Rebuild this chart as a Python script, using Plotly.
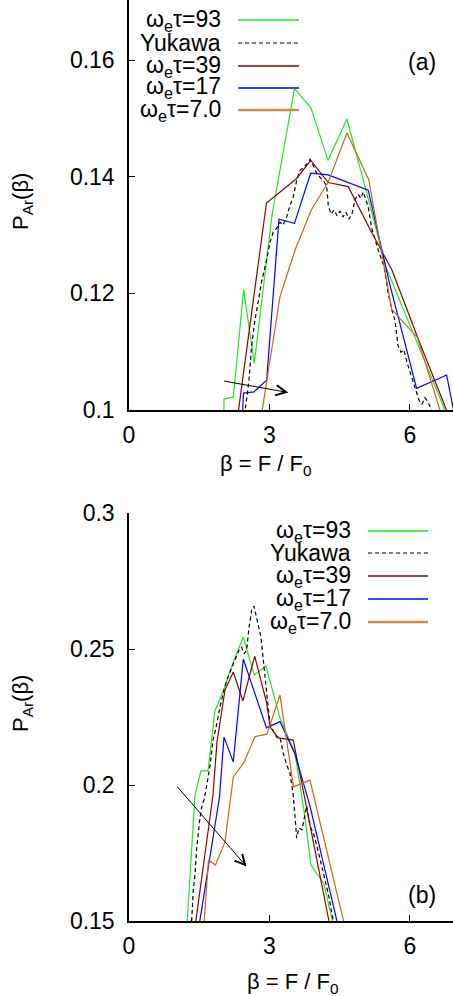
import plotly.graph_objects as go

W, H = 453, 996
FONT = "Liberation Sans, Arial, Helvetica, sans-serif"
FS = 23

# ---------------- panel (a) ----------------
x93a = [2.00, 2.029, 2.227, 2.449, 2.676, 3.054, 3.534, 3.886, 4.249, 4.655, 5.071, 5.488, 6.748, 7.1]
y93a = [0.080, 0.1019, 0.1022, 0.1206, 0.1080, 0.1334, 0.1551, 0.1518, 0.1428, 0.1499, 0.1374, 0.1245, 0.1000, 0.0932]

xYa = [2.456, 2.498, 2.562, 2.620, 2.690, 2.761, 2.840, 2.940, 3.011, 3.081, 3.154, 3.224, 3.288, 3.368,
       3.438, 3.508, 3.581, 3.652, 3.716, 3.795, 3.865, 3.929, 4.008, 4.079, 4.143, 4.222, 4.256, 4.313,
       4.378, 4.442, 4.506, 4.570, 4.634, 4.698, 4.762, 4.826, 4.890, 4.954, 5.003, 5.061, 5.110, 5.183,
       5.253, 5.324, 5.381, 5.445, 5.531, 5.616, 5.680, 5.744, 5.808, 5.872, 5.936, 6.000, 6.064, 6.129,
       6.193, 6.257, 6.321, 6.385, 6.449, 6.513]
yYa = [0.0991, 0.1009, 0.1051, 0.1111, 0.1154, 0.1189, 0.1223, 0.1257, 0.1288, 0.1305, 0.1312, 0.1322,
       0.1317, 0.1331, 0.1351, 0.1365, 0.1394, 0.1411, 0.1415, 0.1422, 0.1430, 0.1420, 0.1406, 0.1399,
       0.1394, 0.1384, 0.1351, 0.1336, 0.1343, 0.1333, 0.1341, 0.1331, 0.1339, 0.1327, 0.1336, 0.1360,
       0.1370, 0.1363, 0.1374, 0.1360, 0.1348, 0.1312, 0.1291, 0.1274, 0.1261, 0.1247, 0.1202, 0.1171,
       0.1154, 0.1111, 0.1099, 0.1103, 0.1082, 0.1065, 0.1051, 0.1034, 0.1017, 0.1010, 0.1021, 0.1014,
       0.1002, 0.0991]

x39a = [2.25, 2.936, 3.581, 3.880, 4.256, 4.683, 5.146, 5.616, 6.171, 6.784, 7.1]
y39a = [0.0947, 0.1355, 0.1397, 0.1428, 0.1390, 0.1383, 0.1310, 0.1240, 0.1123, 0.1000, 0.0936]

x17a = [2.40, 2.445, 2.669, 2.940, 3.203, 3.534, 3.880, 4.254, 5.110, 5.552, 6.143, 6.784, 7.0]
y17a = [0.095, 0.1029, 0.1031, 0.1051, 0.1327, 0.1320, 0.1406, 0.1403, 0.1377, 0.1221, 0.1037, 0.1060, 0.0972]

x7a = [2.75, 3.224, 3.545, 3.893, 4.256, 4.655, 5.121, 5.610, 6.161, 6.641, 7.0]
y7a = [0.0951, 0.1194, 0.1274, 0.1343, 0.1391, 0.1475, 0.1395, 0.1173, 0.1124, 0.1000, 0.0907]

# ---------------- panel (b) ----------------
x93b = [1.2385, 1.409, 1.537, 1.687, 1.836, 2.028, 2.210, 2.441, 2.676, 2.925, 3.224, 3.545, 3.758, 3.886,
        4.164, 4.356, 4.463]
y93b = [0.1485, 0.1963, 0.2052, 0.2052, 0.2272, 0.2353, 0.2445, 0.2544, 0.2404, 0.2438, 0.2246, 0.2118,
        0.1882, 0.1706, 0.1636, 0.1500, 0.1412]

xYb = [1.303, 1.339, 1.373, 1.409, 1.446, 1.480, 1.516, 1.559, 1.602, 1.644, 1.693, 1.730, 1.794, 1.858,
       1.943, 2.029, 2.114, 2.178, 2.227, 2.300, 2.349, 2.407, 2.456, 2.513, 2.562, 2.620, 2.669, 2.712,
       2.761, 2.819, 2.868, 2.925, 2.968, 3.011, 3.081, 3.154, 3.224, 3.288, 3.368, 3.438, 3.508, 3.581,
       3.630, 3.694, 3.795, 3.865, 3.936, 4.008, 4.079, 4.143, 4.222, 4.271, 4.328, 4.378]
yYb = [0.1449, 0.1504, 0.1614, 0.1669, 0.1768, 0.1835, 0.1879, 0.1926, 0.1945, 0.1982, 0.2029, 0.2070,
       0.2165, 0.2210, 0.2287, 0.2349, 0.2397, 0.2423, 0.2445, 0.2471, 0.2496, 0.2507, 0.2482, 0.2496,
       0.2577, 0.2643, 0.2658, 0.2625, 0.2585, 0.2544, 0.2460, 0.2349, 0.2294, 0.2228, 0.2199, 0.2176,
       0.2176, 0.2121, 0.2074, 0.2044, 0.1963, 0.1805, 0.1842, 0.1835, 0.1923, 0.1849, 0.1824, 0.1779,
       0.1724, 0.1680, 0.1625, 0.1588, 0.1540, 0.1485]

x39b = [1.367, 1.431, 1.794, 1.879, 2.050, 2.227, 2.434, 2.684, 2.940, 3.011, 3.188, 3.508, 4.271, 4.37]
y39b = [0.1430, 0.1504, 0.1963, 0.2158, 0.2349, 0.2415, 0.2309, 0.2474, 0.2302, 0.2214, 0.2173, 0.2165,
        0.1500, 0.1412]

x17b = [1.452, 1.516, 1.933, 2.029, 2.227, 2.441, 2.936, 3.224, 3.545, 3.865, 4.435, 4.506]
y17b = [0.1430, 0.1504, 0.1956, 0.2176, 0.2085, 0.2463, 0.2210, 0.2233, 0.2114, 0.1923, 0.1504, 0.1449]

x7b = [1.559, 1.608, 1.698, 1.847, 2.050, 2.227, 2.456, 2.690, 2.947, 3.224, 3.513, 3.865, 4.576, 4.677]
y7b = [0.1412, 0.1504, 0.1724, 0.1706, 0.1790, 0.2029, 0.2083, 0.2178, 0.2187, 0.2331, 0.1993, 0.2018,
       0.1504, 0.1430]

# arrows (tail, head) in data units
arrow_a = [(2.0, 0.105), (3.40, 0.103)]
arrow_b = [(1.0, 0.200), (2.51, 0.170)]

labels = ["ω<sub>e</sub>τ=93", "Yukawa", "ω<sub>e</sub>τ=39", "ω<sub>e</sub>τ=17", "ω<sub>e</sub>τ=7.0"]
colors = ["#1ee61e", "black", "#8b0000", "#0000ff", "#cc6611"]
dashes = ["solid", "4px,3px", "solid", "solid", "solid"]

x_ticks = [0, 3, 6]
x_ticktext = ["0", "3", "6"]
ya_ticks = [0.10, 0.12, 0.14, 0.16]
ya_ticktext = ["0.1", "0.12", "0.14", "0.16"]
yb_ticks = [0.15, 0.20, 0.25, 0.30]
yb_ticktext = ["0.15", "0.2", "0.25", "0.3"]

panel_a = [(x93a, y93a), (xYa, yYa), (x39a, y39a), (x17a, y17a), (x7a, y7a)]
panel_b = [(x93b, y93b), (xYb, yYb), (x39b, y39b), (x17b, y17b), (x7b, y7b)]


def px(v):
    return v / W


def py(v):
    return 1 - v / H


fig = go.Figure()
for (xs, ys), c, d in zip(panel_a, colors, dashes):
    fig.add_trace(go.Scatter(x=xs, y=ys, mode="lines", xaxis="x", yaxis="y",
                             line=dict(color=c, width=1.2, dash=d), showlegend=False, hoverinfo="skip"))
for (xs, ys), c, d in zip(panel_b, colors, dashes):
    fig.add_trace(go.Scatter(x=xs, y=ys, mode="lines", xaxis="x2", yaxis="y2",
                             line=dict(color=c, width=1.2, dash=d), showlegend=False, hoverinfo="skip"))

xdom = [px(129), 1.0]
ya_dom = [py(410), 1.0]
yb_dom = [py(921), py(513)]
XR = [0, 6.92]
YA = [0.10, 0.1703]
YB = [0.15, 0.30]
NOLINE = "rgba(0,0,0,0)"

base = dict(showgrid=False, zeroline=False, ticks="inside", ticklen=6, tickwidth=1, tickcolor="black",
            linecolor="black", linewidth=1.5, automargin=False,
            tickfont=dict(family=FONT, size=FS, color="black"))

fig.update_layout(
    template="none",
    width=W, height=H, margin=dict(l=0, r=0, t=0, b=0, autoexpand=False),
    paper_bgcolor="white", plot_bgcolor="white", showlegend=False,
    font=dict(family=FONT, size=FS, color="black"),
    xaxis=dict(base, domain=xdom, anchor="y", range=XR, tickvals=x_ticks, ticktext=x_ticktext,
               showline=True, ticklabelstandoff=4),
    yaxis=dict(base, domain=ya_dom, anchor="x", range=YA, tickvals=ya_ticks, ticktext=ya_ticktext,
               showline=True, ticklabelstandoff=8),
    xaxis2=dict(base, domain=xdom, anchor="y2", range=XR, tickvals=x_ticks, ticktext=x_ticktext,
                showline=True, ticklabelstandoff=4),
    yaxis2=dict(base, domain=yb_dom, anchor="x2", range=YB, tickvals=yb_ticks, ticktext=yb_ticktext,
                showline=True, ticklabelstandoff=8),
    xaxis3=dict(base, overlaying="x", anchor="y", side="top", range=XR, tickvals=x_ticks,
                showticklabels=False, showline=False, linecolor=NOLINE),
    yaxis3=dict(base, overlaying="y", anchor="x", side="right", range=YA, tickvals=ya_ticks,
                showticklabels=False, showline=False, linecolor=NOLINE),
    xaxis4=dict(base, overlaying="x2", anchor="y2", side="top", range=XR, tickvals=x_ticks,
                showticklabels=False, showline=True),
    yaxis4=dict(base, overlaying="y2", anchor="x2", side="right", range=YB, tickvals=yb_ticks,
                showticklabels=False, showline=False, linecolor=NOLINE),
)

ann = []
shapes = []
# axis titles
for yc in (202, 704):
    ann.append(dict(text="P<sub>Ar</sub>(β)", x=px(22), y=py(yc), xref="paper", yref="paper",
                    textangle=-90, showarrow=False, xanchor="center", yanchor="middle",
                    font=dict(family=FONT, size=22)))
for xc, yc in ((266, 465), (293, 983)):
    ann.append(dict(text="β = F / F<sub>0</sub>", x=px(xc), y=py(yc), xref="paper", yref="paper",
                    showarrow=False, xanchor="center", yanchor="middle", font=dict(family=FONT, size=22)))
ann.append(dict(text="(a)", x=px(422), y=py(62), xref="paper", yref="paper", showarrow=False,
                xanchor="center", yanchor="middle", font=dict(family=FONT, size=FS)))
ann.append(dict(text="(b)", x=px(422), y=py(895), xref="paper", yref="paper", showarrow=False,
                xanchor="center", yanchor="middle", font=dict(family=FONT, size=FS)))

# legends (text left of sample line)
legend_specs = [(223, 238, 299, [20, 43, 66, 88, 110]), (353, 368, 428, [531, 553, 576, 599, 622])]
for tx, l0, l1, rows in legend_specs:
    for lab, c, d, ry in zip(labels, colors, dashes, rows):
        ann.append(dict(text=lab, x=px(tx), y=py(ry), xref="paper", yref="paper", showarrow=False,
                        xanchor="right", yanchor="middle", font=dict(family=FONT, size=FS)))
        lw = 2.5 if c == "#cc6611" else 1.5
        lc = "#d08a55" if c == "#cc6611" else ("#555555" if c == "black" else c)
        shapes.append(dict(type="line", xref="paper", yref="paper", x0=px(l0), x1=px(l1),
                           y0=py(ry), y1=py(ry), line=dict(color=lc, width=lw, dash=d if d != "solid" else None)))

# arrows
for (tail, head), xr, yr in ((arrow_a, "x", "y"), (arrow_b, "x2", "y2")):
    ann.append(dict(text="", x=head[0], y=head[1], ax=tail[0], ay=tail[1], xref=xr, yref=yr,
                    axref=xr, ayref=yr, showarrow=True, arrowhead=5, arrowsize=2.0, arrowwidth=1,
                    arrowcolor="black", standoff=0, startstandoff=0))

fig.update_layout(annotations=ann, shapes=shapes)
fig.write_html("out.html")
